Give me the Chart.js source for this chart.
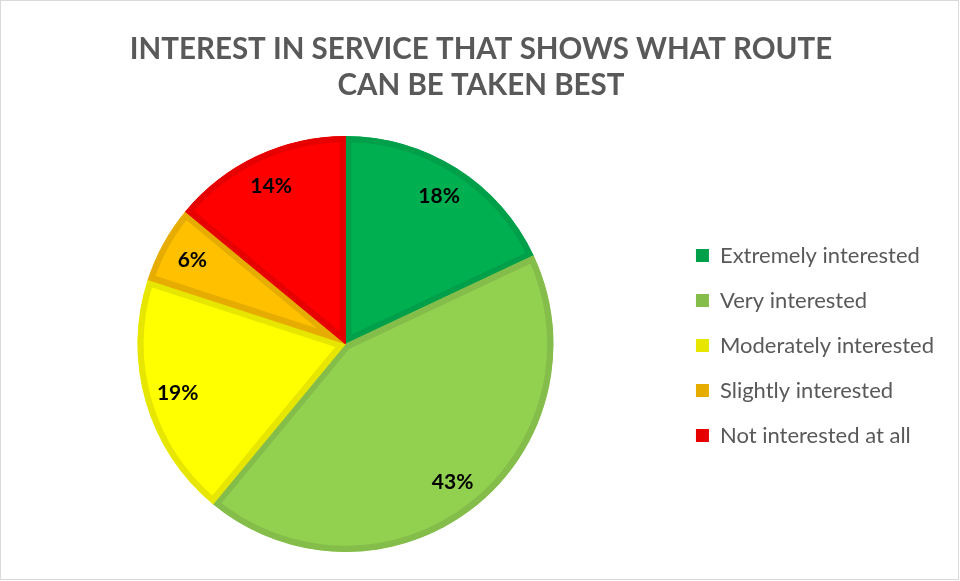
<!DOCTYPE html>
<html>
<head>
<meta charset="utf-8">
<script src="https://cdn.jsdelivr.net/npm/chart.js@4"></script>
<style>
  html, body { margin: 0; padding: 0; background: #fff; }
  #wrap { position: absolute; left: 0; top: 0; width: 957px; height: 578px; border: 1px solid #d9d9d9; }
</style>
</head>
<body>
<div id="wrap"><canvas id="pieChart" width="957" height="578"></canvas></div>
<script>
var labels = ["Extremely interested", "Very interested", "Moderately interested", "Slightly interested", "Not interested at all"];
var values = [18, 43, 19, 6, 14];
var fillColors = ["#00b050", "#92d050", "#ffff00", "#ffc000", "#ff0000"];
var edgeColors = ["#00a04a", "#84bd4a", "#e6e600", "#e6ad00", "#e60000"];

// percent labels drawn inside each slice
var sliceLabels = {
  id: "sliceLabels",
  afterDatasetsDraw: function (chart) {
    var ctx = chart.ctx;
    var meta = chart.getDatasetMeta(0);
    ctx.save();
    ctx.font = "bold 21px Lato";
    ctx.fillStyle = "#000";
    ctx.textAlign = "center";
    ctx.textBaseline = "middle";
    meta.data.forEach(function (arc, i) {
      var p = arc.getProps(["x", "y", "startAngle", "endAngle", "outerRadius"], true);
      var a = (p.startAngle + p.endAngle) / 2;
      var r = p.outerRadius * 0.84;
      ctx.fillText(values[i] + "%", p.x + Math.cos(a) * r, p.y + Math.sin(a) * r);
    });
    ctx.restore();
  }
};

new Chart("pieChart", {
  type: "pie",
  data: {
    labels: labels,
    datasets: [{
      data: values,
      backgroundColor: fillColors,
      borderColor: edgeColors,
      borderWidth: 6,
      borderAlign: "inner"
    }]
  },
  options: {
    responsive: false,
    animation: false,
    layout: { padding: { left: 17, right: 14, top: 0, bottom: 27 } },
    plugins: {
      title: {
        display: true,
        text: ["INTEREST IN SERVICE THAT SHOWS WHAT ROUTE", "CAN BE TAKEN BEST"],
        color: "#595959",
        font: { family: "Lato", size: 29.5, weight: "bold", lineHeight: 1.22 },
        padding: { top: 30, bottom: 33 }
      },
      legend: {
        display: true,
        position: "right",
        title: { display: true, text: " ", font: { size: 10, lineHeight: 1 }, padding: { top: 64, bottom: 64 } },
        labels: {
          color: "#595959",
          font: { family: "Lato", size: 22 },
          boxWidth: 13,
          boxHeight: 13,
          padding: 23,
          generateLabels: function (chart) {
            return labels.map(function (l, i) {
              return { text: l, fillStyle: edgeColors[i], strokeStyle: edgeColors[i], lineWidth: 0, index: i, fontColor: "#595959" };
            });
          }
        }
      },
      tooltip: { enabled: false }
    }
  },
  plugins: [sliceLabels]
});
</script>
</body>
</html>
